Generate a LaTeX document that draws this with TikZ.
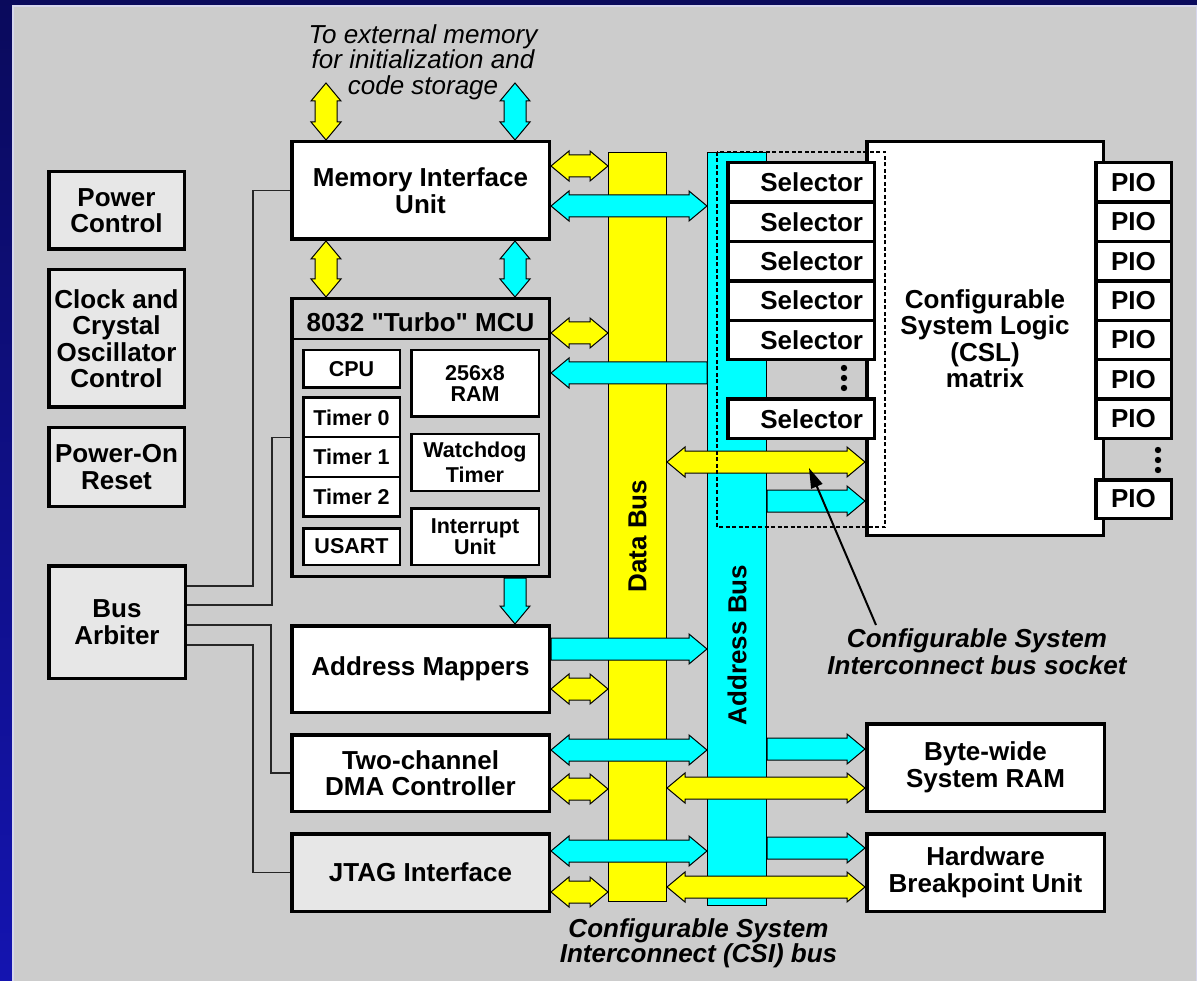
\documentclass[tikz,border=0pt]{standalone}
\usepackage{fontspec}
\setmainfont{Liberation Sans}[Ligatures=TeXOff]
\usetikzlibrary{calc,arrows.meta}
\pgfdeclarelayer{back}
\pgfdeclarelayer{arrowlayer}
\pgfsetlayers{back,arrowlayer,main}
\definecolor{panel}{RGB}{204,204,204}
\definecolor{panelline}{RGB}{214,214,236}
\definecolor{lightbox}{RGB}{231,231,231}
\definecolor{navyA}{RGB}{10,10,92}
\definecolor{navyB}{RGB}{20,20,176}
\definecolor{bYellow}{RGB}{255,255,0}
\definecolor{bCyan}{RGB}{0,255,255}
\tikzset{
  fat/.style={draw=black, line width=1pt, line join=miter},
  blk/.style={draw=black, line width=3.5pt, fill=white, align=center, inner sep=0pt,
    font=\bfseries\fontsize{26}{26.5}\selectfont},
  sz/.style 2 args={minimum width={#1-3.5}, minimum height={#2-3.5}},
  ibox/.style={draw=black, line width=2.5pt, fill=white, align=center, inner sep=0pt,
    font=\bfseries\fontsize{21.5}{21}\selectfont},
  isz/.style 2 args={minimum width={#1-2.5}, minimum height={#2-2.5}},
  selbox/.style={draw=black, line width=3.5pt, fill=white, inner sep=0pt, minimum width=146.5,
    minimum height=39.4, text width=124, align=right, font=\bfseries\fontsize{26}{26}\selectfont},
  piobox/.style={draw=black, line width=3.5pt, fill=white, inner sep=0pt, minimum width=75.5,
    minimum height=39.4, font=\bfseries\fontsize{26}{26}\selectfont},
  bus/.style={draw=black, line width=1.3pt, inner sep=0pt},
  buslabel/.style={rotate=90, inner sep=0pt, font=\bfseries\fontsize{26}{26}\selectfont},
  wire/.style={draw=black!85, line width=1.3pt},
  note/.style={align=center, inner sep=0pt},
}
\newcommand{\dH}[3]{\draw[fat,fill=#1] let \p1=#2, \p2=#3 in
  (\x1,\y1) -- (\x1+18pt,\y1+15pt) -- (\x1+18pt,\y1+11pt) -- (\x2-18pt,\y1+11pt) -- (\x2-18pt,\y1+15pt)
  -- (\x2,\y1) -- (\x2-18pt,\y1-15pt) -- (\x2-18pt,\y1-11pt) -- (\x1+18pt,\y1-11pt) -- (\x1+18pt,\y1-15pt) -- cycle;}
\newcommand{\sR}[3]{\draw[fat,fill=#1] let \p1=#2, \p2=#3 in
  (\x1,\y1+11pt) -- (\x2-18pt,\y1+11pt) -- (\x2-18pt,\y1+15pt) -- (\x2,\y1)
  -- (\x2-18pt,\y1-15pt) -- (\x2-18pt,\y1-11pt) -- (\x1,\y1-11pt) -- cycle;}
\newcommand{\sL}[3]{\draw[fat,fill=#1] let \p1=#2, \p2=#3 in
  (\x1,\y1+11pt) -- (\x2+18pt,\y1+11pt) -- (\x2+18pt,\y1+15pt) -- (\x2,\y1)
  -- (\x2+18pt,\y1-15pt) -- (\x2+18pt,\y1-11pt) -- (\x1,\y1-11pt) -- cycle;}
\newcommand{\dV}[3]{\draw[fat,fill=#1] let \p1=#2, \p2=#3 in
  (\x1,\y1) -- (\x1+15pt,\y1-18pt) -- (\x1+11pt,\y1-18pt) -- (\x1+11pt,\y2+18pt) -- (\x1+15pt,\y2+18pt)
  -- (\x1,\y2) -- (\x1-15pt,\y2+18pt) -- (\x1-11pt,\y2+18pt) -- (\x1-11pt,\y1-18pt) -- (\x1-15pt,\y1-18pt) -- cycle;}
\newcommand{\sD}[3]{\draw[fat,fill=#1] let \p1=#2, \p2=#3 in
  (\x1-11pt,\y1) -- (\x1+11pt,\y1) -- (\x1+11pt,\y2+18pt) -- (\x1+15pt,\y2+18pt)
  -- (\x1,\y2) -- (\x1-15pt,\y2+18pt) -- (\x1-11pt,\y2+18pt) -- cycle;}
\begin{document}
\begin{tikzpicture}[x=1pt,y=-1pt]
\useasboundingbox (0,0) rectangle (1197,981);
\begin{pgfonlayer}{back}
  \shade[top color=navyA, bottom color=navyB] (0,0) rectangle (1197,981);
  \fill[panelline] (11.5,5.5) rectangle (1197,990);
  \fill[panel] (14,7.5) rectangle (1195.5,990);
  \node[bus, fill=bYellow, minimum width=57.7, minimum height=748.7] (databus) at (637.5,527) {};
  \node[bus, fill=bCyan, minimum width=58.7, minimum height=752.7] (addrbus) at (737,529) {};
\end{pgfonlayer}

% left column
\node[blk, fill=lightbox, sz={139}{81}] (pwr) at (116.5,210.5) {Power\\Control};
\node[blk, fill=lightbox, sz={139}{141}] (clk) at (116.5,338.5) {Clock and\\Crystal\\Oscillator\\Control};
\node[blk, fill=lightbox, sz={139}{82}] (por) at (116.5,467) {Power-On\\Reset};
\node[blk, fill=lightbox, sz={140}{116}] (arb) at (117,622) {Bus\\Arbiter};

% middle column
\node[blk, sz={261}{101}] (miu) at (420.5,190.5) {Memory Interface\\Unit};
\node[blk, fill=panel, sz={261}{281}] (mcu) at (420.5,437.5) {};
\draw[line width=2pt] (mcu.west |- 0,339) -- (mcu.east |- 0,339);
\node[inner sep=0pt, font=\bfseries\fontsize{26}{26}\selectfont] (mcutitle) at (420.5,322.5) {8032 "Turbo" MCU};
\node[ibox, isz={99}{40}] (cpu) at (351.5,369) {CPU};
\node[ibox, minimum width=96.5, minimum height=39.5] (t0) at (351.5,417.5) {Timer 0};
\node[ibox, minimum width=96.5, minimum height=39.5] (t1) at (351.5,457) {Timer 1};
\node[ibox, minimum width=96.5, minimum height=39.5] (t2) at (351.5,496.5) {Timer 2};
\node[ibox, isz={99}{39}] (usart) at (351.5,546.5) {USART};
\node[ibox, isz={130}{69}, font=\bfseries\fontsize{21.5}{20.5}\selectfont] (iram) at (475,383.5) {256x8\\RAM};
\node[ibox, isz={130}{59}, font=\bfseries\fontsize{21.5}{25}\selectfont] (wdt) at (475,462.5) {Watchdog\\Timer};
\node[ibox, isz={130}{59}, font=\bfseries\fontsize{21.5}{19}\selectfont] (irq) at (475,536.5) {Interrupt\\Unit};
\node[blk, sz={261}{90}] (amap) at (420.5,669) {Address Mappers};
\node[blk, sz={261}{80}] (dma) at (420.5,773) {Two-channel\\DMA Controller};
\node[blk, fill=lightbox, sz={261}{81}] (jtag) at (420.5,872.5) {JTAG Interface};

% right column
\node[blk, sz={240}{397}] (csl) at (985,338.5) {Configurable\\System Logic\\(CSL)\\matrix};
\node[blk, sz={241}{91}] (sram) at (985.5,767.5) {Byte-wide\\System RAM};
\node[blk, sz={241}{81}] (hbu) at (985.5,872.5) {Hardware\\Breakpoint Unit};

\foreach \i/\y in {1/182.4,2/221.8,3/261.2,4/300.6,5/340.0}
  \node[selbox] (sel\i) at (801,\y) {Selector};
\node[selbox] (sel6) at (801,418.8) {Selector};
\foreach \i/\y in {1/182.4,2/221.8,3/261.2,4/300.6,5/340.0,6/379.4,7/418.8}
  \node[piobox] (pio\i) at (1133.5,\y) {PIO};
\node[piobox, minimum height=38.5] (pio8) at (1133.5,499) {PIO};
\foreach \y in {368,378,388} \fill (844,\y) circle (3.2pt);
\foreach \y in {450,460,470} \fill (1158,\y) circle (3.2pt);

\node[buslabel] (dlabel) at (637.5,536) {Data Bus};
\node[buslabel] (alabel) at (737,645) {Address Bus};

% wires from bus arbiter
\draw[wire] (arb.east |- 0,586) -- (253,586) |- (miu.west);
\draw[wire] (arb.east |- 0,605) -- (272,605) |- (mcu.west);
\draw[wire] (arb.east |- 0,625) -- (271,625) |- (dma.west);
\draw[wire] (arb.east |- 0,645) -- (253,645) |- (jtag.west);

% fat arrows
\coordinate (extY) at (326,83);
\coordinate (extC) at (515,83);
\begin{pgfonlayer}{arrowlayer}
  \dV{bYellow}{(extY)}{(miu.north -| extY)}
  \dV{bCyan}{(extC)}{(miu.north -| extC)}
  \dV{bYellow}{(miu.south -| extY)}{(mcu.north -| extY)}
  \dV{bCyan}{(miu.south -| extC)}{(mcu.north -| extC)}
  \sD{bCyan}{(mcu.south -| extC)}{(amap.north -| extC)}
  \dH{bYellow}{(miu.east |- 0,166)}{(databus.west |- 0,166)}
  \dH{bCyan}{(miu.east |- 0,206)}{(addrbus.west |- 0,206)}
  \dH{bYellow}{(mcu.east |- 0,333)}{(databus.west |- 0,333)}
  \sL{bCyan}{(addrbus.west |- 0,373)}{(mcu.east |- 0,373)}
  \sR{bCyan}{(amap.east |- 0,649)}{(addrbus.west |- 0,649)}
  \dH{bYellow}{(amap.east |- 0,689)}{(databus.west |- 0,689)}
  \dH{bCyan}{(dma.east |- 0,750)}{(addrbus.west |- 0,750)}
  \dH{bYellow}{(dma.east |- 0,789)}{(databus.west |- 0,789)}
  \dH{bCyan}{(jtag.east |- 0,851)}{(addrbus.west |- 0,851)}
  \dH{bYellow}{(jtag.east |- 0,892)}{(databus.west |- 0,892)}
  \dH{bYellow}{(databus.east |- 0,462)}{(csl.west |- 0,462)}
  \sR{bCyan}{(addrbus.east |- 0,501)}{(csl.west |- 0,501)}
  \sR{bCyan}{(addrbus.east |- 0,749)}{(sram.west |- 0,749)}
  \dH{bYellow}{(databus.east |- 0,788)}{(sram.west |- 0,788)}
  \sR{bCyan}{(addrbus.east |- 0,848)}{(hbu.west |- 0,848)}
  \dH{bYellow}{(databus.east |- 0,887)}{(hbu.west |- 0,887)}
\end{pgfonlayer}

% socket outline
\draw[line width=1.2pt, dash pattern=on 4pt off 2.5pt] (717,152) rectangle (885,527);

% labels
\node[note, font=\itshape\fontsize{26}{25.5}\selectfont] (extnote) at (423,61.8)
  {To external memory\\for initialization and\\code storage};
\node[note, font=\bfseries\itshape\fontsize{26}{27}\selectfont] (socket) at (977,652)
  {Configurable System\\Interconnect bus socket};
\node[note, font=\bfseries\itshape\fontsize{26}{25}\selectfont] (csibus) at (698.5,943.5)
  {Configurable System\\Interconnect (CSI) bus};
\coordinate (ptrstart) at (876,625);
\coordinate (ptrend) at (809,468);
\draw[line width=2pt, -{Triangle[length=20pt,width=12pt]}] (ptrstart) -- (ptrend);
\end{tikzpicture}
\end{document}
